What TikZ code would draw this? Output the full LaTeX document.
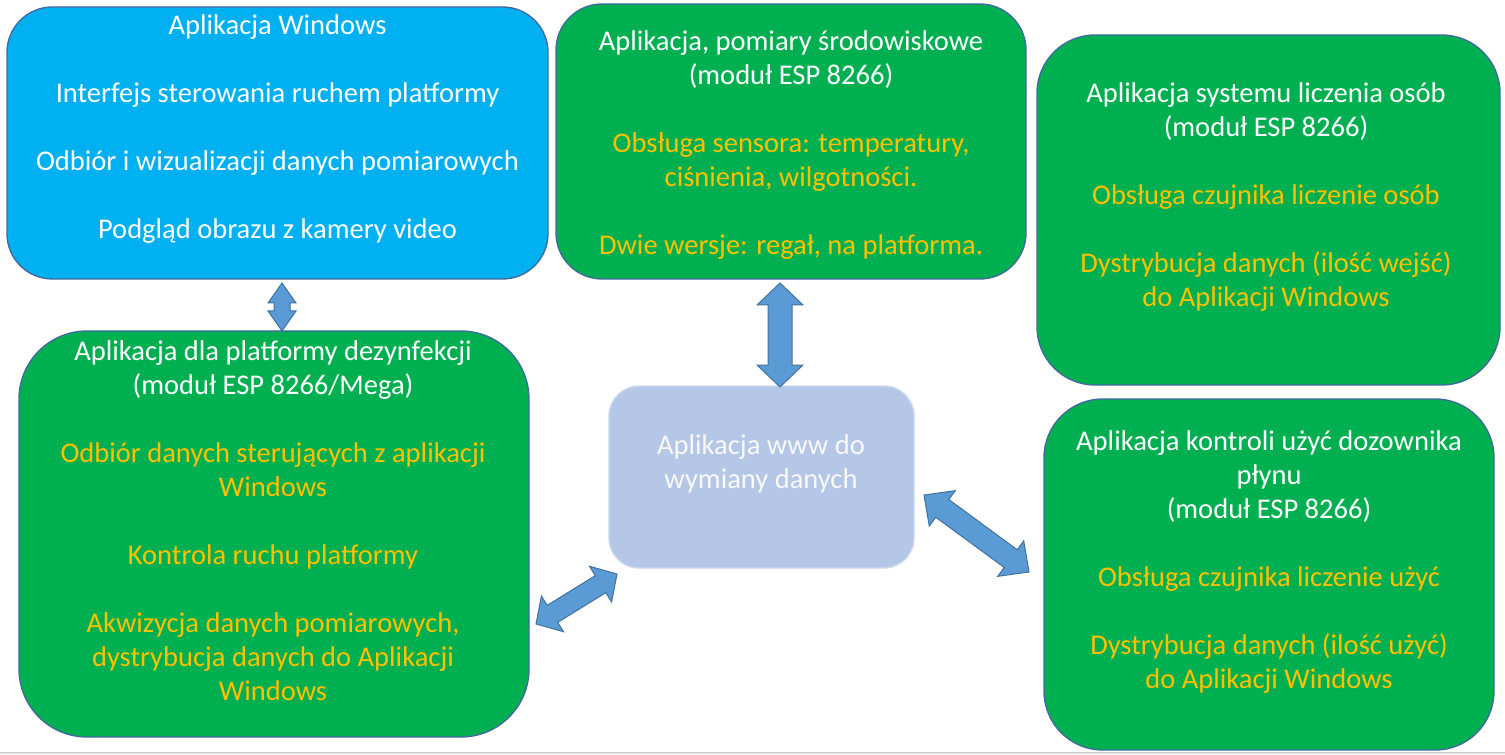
\documentclass[tikz,border=0pt]{standalone}
\usepackage{fontspec}
\setmainfont{Carlito}
\usetikzlibrary{calc}

\definecolor{winblue}{HTML}{00B0F0}
\definecolor{appgreen}{HTML}{00B050}
\definecolor{txtgold}{HTML}{FFC000}
\definecolor{wwwfill}{HTML}{B4C7E7}
\definecolor{wwwedge}{HTML}{CCD9EF}
\definecolor{boxedge}{HTML}{41699F}
\definecolor{arrowfill}{HTML}{5B9BD5}
\definecolor{arrowedge}{HTML}{41719C}

\tikzset{
  box/.style={draw=boxedge,line width=1pt,rectangle},
  txt/.style={align=center,inner sep=0pt,text=white,font=\fontsize{21.4}{25.5}\selectfont},
  blockarrow/.style={fill=arrowfill,draw=arrowedge,line width=.75pt,line join=miter}
}

% from, to, half shaft, half head, head length
\newcommand{\dblarrow}[5]{%
  \coordinate (ha) at ($(#1)!#5!(#2)$);
  \coordinate (hb) at ($(#2)!#5!(#1)$);
  \draw[blockarrow] (#1) -- ($(ha)!#4!90:(#2)$) -- ($(ha)!#3!90:(#2)$)
    -- ($(hb)!#3!-90:(#1)$) -- ($(hb)!#4!-90:(#1)$) -- (#2)
    -- ($(hb)!#4!90:(#1)$) -- ($(hb)!#3!90:(#1)$)
    -- ($(ha)!#3!-90:(#2)$) -- ($(ha)!#4!-90:(#2)$) -- cycle;}

\begin{document}
\begin{tikzpicture}[x=.75pt,y=-.75pt]
  \useasboundingbox (0,0) rectangle (1505,755);
  \fill[gray!12] (0,752) rectangle (1505,755);
  \draw[gray!45,line width=.75pt] (0,752) -- (1505,752);

  % boxes
  \node[box,fill=winblue,minimum width=405.75pt,minimum height=204pt,rounded corners=34pt] (win) at (277.5,143) {};
  \node[box,fill=appgreen,minimum width=352.5pt,minimum height=206.25pt,rounded corners=34.5pt] (env) at (791,141.5) {};
  \node[box,fill=appgreen,minimum width=347.25pt,minimum height=262.5pt,rounded corners=43.5pt] (count) at (1268.5,210) {};
  \node[box,fill=appgreen,minimum width=382.5pt,minimum height=304.5pt,rounded corners=51pt] (plat) at (274,534) {};
  \node[box,draw=wwwedge,fill=wwwfill,minimum width=228.75pt,minimum height=136.5pt,rounded corners=22.5pt] (www) at (761.5,477) {};
  \node[box,fill=appgreen,minimum width=337.5pt,minimum height=263.25pt,rounded corners=44pt] (disp) at (1269,574.5) {};

  % texts
  \node[txt] (wintxt) at (277.5,129) {Aplikacja Windows\\[25.5pt]
    Interfejs sterowania ruchem platformy\\[25.5pt]
    Odbiór i wizualizacji danych pomiarowych\\[25.5pt]
    Podgląd obrazu z kamery video};
  \node[txt] (envtxt) at (791,145) {Aplikacja, pomiary środowiskowe\\
    (moduł ESP 8266)\\[25.5pt]
    \textcolor{txtgold}{Obsługa sensora: temperatury,}\\
    \textcolor{txtgold}{ciśnienia, wilgotności.}\\[25.5pt]
    \textcolor{txtgold}{Dwie wersje: regał, na platforma.}};
  \node[txt] (counttxt) at (1266,197) {Aplikacja systemu liczenia osób\\
    (moduł ESP 8266)\\[25.5pt]
    \textcolor{txtgold}{Obsługa czujnika liczenie osób}\\[25.5pt]
    \textcolor{txtgold}{Dystrybucja danych (ilość wejść)}\\
    \textcolor{txtgold}{do Aplikacji Windows}};
  \node[txt] (plattxt) at (273,520.5) {Aplikacja dla platformy dezynfekcji\\
    (moduł ESP 8266/Mega)\\[25.5pt]
    \textcolor{txtgold}{Odbiór danych sterujących z aplikacji}\\
    \textcolor{txtgold}{Windows}\\[25.5pt]
    \textcolor{txtgold}{Kontrola ruchu platformy}\\[25.5pt]
    \textcolor{txtgold}{Akwizycja danych pomiarowych,}\\
    \textcolor{txtgold}{dystrybucja danych do Aplikacji}\\
    \textcolor{txtgold}{Windows}};
  \node[txt,text=white!95!gray] (wwwtxt) at (761,464) {Aplikacja www do\\
    wymiany danych};
  \node[txt] (disptxt) at (1269,562) {Aplikacja kontroli użyć dozownika\\
    płynu\\
    (moduł ESP 8266)\\[25.5pt]
    \textcolor{txtgold}{Obsługa czujnika liczenie użyć}\\[25.5pt]
    \textcolor{txtgold}{Dystrybucja danych (ilość użyć)}\\
    \textcolor{txtgold}{do Aplikacji Windows}};

  % arrow ends
  \coordinate (winend) at (282,283);
  \coordinate (platup) at (282,331);
  \coordinate (envend) at (780,283);
  \coordinate (wwwup) at (780,387);
  \coordinate (platend) at (536,624);
  \coordinate (wwwleft) at (617,574);
  \coordinate (wwwright) at (924,495);
  \coordinate (dispend) at (1029,572);

  \dblarrow{winend}{platup}{6pt}{10.5pt}{15pt}
  \dblarrow{envend}{wwwup}{9pt}{17.25pt}{16.5pt}
  \dblarrow{platend}{wwwleft}{7.5pt}{15.75pt}{14.5pt}
  \dblarrow{wwwright}{dispend}{8.25pt}{16.5pt}{17pt}
\end{tikzpicture}
\end{document}
